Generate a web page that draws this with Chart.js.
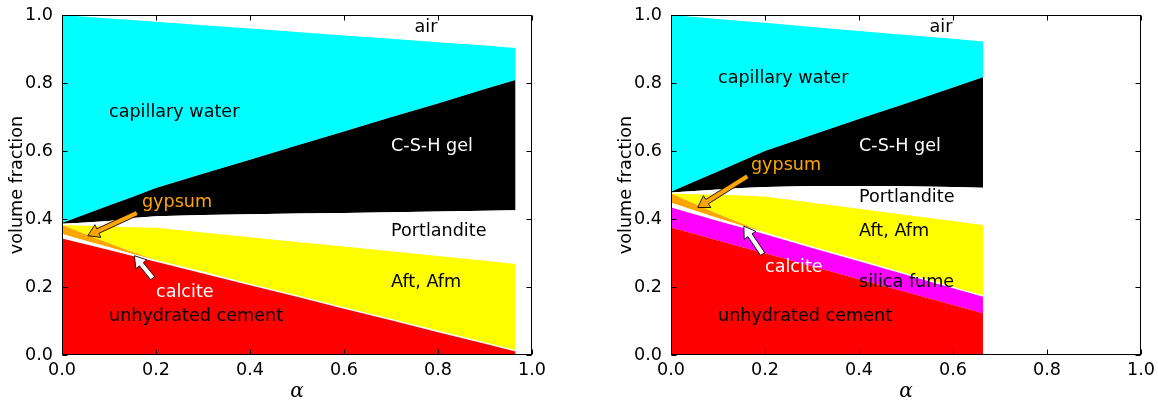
<!DOCTYPE html>
<html>
<head>
<meta charset="utf-8">
<script src="https://cdn.jsdelivr.net/npm/chart.js@4/dist/chart.umd.min.js"></script>
<style>
  html, body { margin: 0; padding: 0; background: #fff; }
  #wrap { position: relative; width: 1158px; height: 401px; }
  .panel { position: absolute; top: 0; width: 579px; height: 401px; }
</style>
</head>
<body>
<div id="wrap">
  <div class="panel" style="left:0"><canvas id="opc" width="579" height="401"></canvas></div>
  <div class="panel" style="left:579px"><canvas id="sf" width="579" height="401"></canvas></div>
</div>
<script>
// ---- Plain Portland cement paste: phase volume fractions vs. degree of hydration ----
const alphaOPC       = [0, 0.05, 0.1, 0.15, 0.2, 0.3, 0.4, 0.5, 0.6, 0.7, 0.8, 0.9, 0.965];
const cementOPC      = [0.343, 0.326, 0.309, 0.291, 0.274, 0.240, 0.205, 0.171, 0.136, 0.102, 0.067, 0.033, 0.010];
const calciteOPC     = [0.013, 0.010, 0.008, 0.006, 0.005, 0.005, 0.004, 0.004, 0.004, 0.004, 0.004, 0.004, 0.004];
const gypsumOPC      = [0.026, 0.019, 0.012, 0.006, 0, 0, 0, 0, 0, 0, 0, 0, 0];
const aftAfmOPC      = [0, 0.025, 0.049, 0.073, 0.095, 0.115, 0.137, 0.157, 0.179, 0.199, 0.220, 0.240, 0.254];
const portlanditeOPC = [0.004, 0.010, 0.016, 0.027, 0.034, 0.052, 0.068, 0.084, 0.099, 0.115, 0.131, 0.147, 0.158];
const cshOPC         = [0.002, 0.024, 0.046, 0.062, 0.083, 0.121, 0.160, 0.200, 0.239, 0.279, 0.318, 0.358, 0.383];
const waterOPC       = [0.612, 0.581, 0.550, 0.520, 0.489, 0.437, 0.386, 0.334, 0.283, 0.231, 0.180, 0.128, 0.094];
const airOPC         = [0, 0.005, 0.010, 0.015, 0.020, 0.030, 0.040, 0.050, 0.060, 0.070, 0.080, 0.090, 0.097];

// ---- Blend with silica fume ----
const alphaSF        = [0, 0.05, 0.1, 0.15, 0.2, 0.3, 0.4, 0.5, 0.6, 0.664];
const cementSF       = [0.375, 0.356, 0.337, 0.318, 0.299, 0.261, 0.223, 0.185, 0.147, 0.123];
const silicaFumeSF   = [0.059, 0.058, 0.057, 0.057, 0.056, 0.054, 0.053, 0.051, 0.049, 0.048];
const calciteSF      = [0.014, 0.011, 0.008, 0.006, 0.005, 0.004, 0.004, 0.004, 0.004, 0.004];
const gypsumSF       = [0.027, 0.020, 0.013, 0.006, 0, 0, 0, 0, 0, 0];
const aftAfmSF       = [0, 0.028, 0.056, 0.082, 0.106, 0.129, 0.150, 0.172, 0.194, 0.207];
const portlanditeSF  = [0.003, 0.009, 0.016, 0.022, 0.028, 0.049, 0.067, 0.084, 0.100, 0.110];
const cshSF          = [0.002, 0.028, 0.053, 0.079, 0.106, 0.150, 0.197, 0.244, 0.293, 0.325];
const waterSF        = [0.520, 0.484, 0.448, 0.412, 0.377, 0.318, 0.259, 0.201, 0.143, 0.105];
const airSF          = [0, 0.006, 0.012, 0.018, 0.023, 0.035, 0.047, 0.059, 0.070, 0.078];

// axis ticks
const tickValues = [0, 0.2, 0.4, 0.6, 0.8, 1.0];

const FONT = '"DejaVu Sans", "Liberation Sans", sans-serif';
const FS = 17.6;

const phaseColors = {
  cement: '#ff0000', silica: '#ff00ff', calcite: '#ffffff', gypsum: '#ffa500',
  aft: '#ffff00', portlandite: '#ffffff', csh: '#000000', water: '#00ffff', air: '#ffffff'
};

function toPoints(xs, ys) { return xs.map((x, i) => ({ x: x, y: ys[i] })); }

function layer(label, xs, ys, color, idx) {
  return {
    label: label,
    data: toPoints(xs, ys),
    backgroundColor: color,
    borderColor: color,
    borderWidth: 0,
    pointRadius: 0,
    tension: 0,
    fill: idx === 0 ? 'origin' : '-1'
  };
}

// frame, inward ticks, text labels and arrows
const decorPlugin = {
  id: 'decor',
  afterDatasetsDraw(chart, args, opts) {
    const { ctx, chartArea: a, scales: { x, y } } = chart;
    ctx.save();
    ctx.strokeStyle = '#000';
    ctx.lineWidth = 1;
    const L = Math.round(a.left) + 0.5, R = Math.round(a.right) - 0.5;
    const T = Math.round(a.top) + 0.5, B = Math.round(a.bottom) - 0.5;
    ctx.strokeRect(L, T, R - L, B - T);
    const tl = 5;
    ctx.beginPath();
    tickValues.forEach(v => {
      const px = Math.round(x.getPixelForValue(v)) + 0.5;
      ctx.moveTo(px, B); ctx.lineTo(px, B - tl);
      ctx.moveTo(px, T); ctx.lineTo(px, T + tl);
      const py = Math.round(y.getPixelForValue(v)) + 0.5;
      ctx.moveTo(L, py); ctx.lineTo(L + tl, py);
      ctx.moveTo(R, py); ctx.lineTo(R - tl, py);
    });
    ctx.stroke();

    // arrows
    (opts.arrows || []).forEach(ar => {
      const x1 = x.getPixelForValue(ar.from[0]), y1 = y.getPixelForValue(ar.from[1]);
      const x2 = x.getPixelForValue(ar.to[0]), y2 = y.getPixelForValue(ar.to[1]);
      const ang = Math.atan2(y2 - y1, x2 - x1);
      const len = Math.hypot(x2 - x1, y2 - y1);
      const hw = 2.5, hh = 7, hl = 11;
      ctx.save();
      ctx.translate(x1, y1);
      ctx.rotate(ang);
      ctx.beginPath();
      ctx.moveTo(0, -hw);
      ctx.lineTo(len - hl, -hw);
      ctx.lineTo(len - hl, -hh);
      ctx.lineTo(len, 0);
      ctx.lineTo(len - hl, hh);
      ctx.lineTo(len - hl, hw);
      ctx.lineTo(0, hw);
      ctx.closePath();
      ctx.fillStyle = ar.color;
      ctx.fill();
      ctx.lineWidth = 0.8;
      ctx.strokeStyle = '#000';
      ctx.stroke();
      ctx.restore();
    });

    // phase labels
    ctx.font = FS + 'px ' + FONT;
    ctx.textAlign = 'left';
    ctx.textBaseline = 'alphabetic';
    (opts.labels || []).forEach(lb => {
      ctx.fillStyle = lb.color;
      ctx.fillText(lb.text, x.getPixelForValue(lb.x), y.getPixelForValue(lb.y));
    });
    ctx.restore();
  }
};

function makeChart(id, datasets, labels, arrows, padLeft, padRight) {
  return new Chart(document.getElementById(id), {
    type: 'line',
    data: { datasets: datasets },
    plugins: [decorPlugin],
    options: {
      responsive: false,
      animation: false,
      layout: { padding: { left: padLeft, right: padRight, top: 15, bottom: 0 } },
      plugins: {
        legend: { display: false },
        tooltip: { enabled: false },
        decor: { labels: labels, arrows: arrows }
      },
      scales: {
        x: {
          type: 'linear', min: 0, max: 1,
          grid: { display: false, drawTicks: false },
          border: { display: false },
          afterBuildTicks(s) { s.ticks = tickValues.map(v => ({ value: v })); },
          afterFit(s) { s.height = 46; s.paddingLeft = 0; s.paddingRight = 0; },
          ticks: {
            padding: 5, color: '#000', font: { family: FONT, size: FS },
            maxRotation: 0, callback: v => Number(v).toFixed(1)
          },
          title: {
            display: true, text: 'α', color: '#000',
            font: { family: '"DejaVu Serif", serif', size: 20, style: 'italic' },
            padding: { top: 0, bottom: -3 }
          }
        },
        y: {
          type: 'linear', min: 0, max: 1, stacked: true,
          grid: { display: false, drawTicks: false },
          border: { display: false },
          afterBuildTicks(s) { s.ticks = tickValues.map(v => ({ value: v })); },
          afterFit(s) { s.width = 62; s.paddingTop = 0; s.paddingBottom = 0; },
          ticks: {
            padding: 9, color: '#000', font: { family: FONT, size: FS },
            callback: v => Number(v).toFixed(1)
          },
          title: {
            display: true, text: 'volume fraction', color: '#000',
            font: { family: FONT, size: FS },
            padding: { top: 7, bottom: 0 }
          }
        }
      }
    }
  });
}

const opcSets = [
  ['unhydrated cement', cementOPC, phaseColors.cement],
  ['calcite', calciteOPC, phaseColors.calcite],
  ['gypsum', gypsumOPC, phaseColors.gypsum],
  ['Aft, Afm', aftAfmOPC, phaseColors.aft],
  ['Portlandite', portlanditeOPC, phaseColors.portlandite],
  ['C-S-H gel', cshOPC, phaseColors.csh],
  ['capillary water', waterOPC, phaseColors.water],
  ['air', airOPC, phaseColors.air]
].map((d, i) => layer(d[0], alphaOPC, d[1], d[2], i));

const sfSets = [
  ['unhydrated cement', cementSF, phaseColors.cement],
  ['silica fume', silicaFumeSF, phaseColors.silica],
  ['calcite', calciteSF, phaseColors.calcite],
  ['gypsum', gypsumSF, phaseColors.gypsum],
  ['Aft, Afm', aftAfmSF, phaseColors.aft],
  ['Portlandite', portlanditeSF, phaseColors.portlandite],
  ['C-S-H gel', cshSF, phaseColors.csh],
  ['capillary water', waterSF, phaseColors.water],
  ['air', airSF, phaseColors.air]
].map((d, i) => layer(d[0], alphaSF, d[1], d[2], i));

makeChart('opc', opcSets, [
  { text: 'air', x: 0.75, y: 0.95, color: '#000' },
  { text: 'capillary water', x: 0.1, y: 0.7, color: '#000' },
  { text: 'C-S-H gel', x: 0.7, y: 0.6, color: '#fff' },
  { text: 'gypsum', x: 0.17, y: 0.435, color: '#ffa500' },
  { text: 'Portlandite', x: 0.7, y: 0.35, color: '#000' },
  { text: 'Aft, Afm', x: 0.7, y: 0.2, color: '#000' },
  { text: 'calcite', x: 0.2, y: 0.17, color: '#fff' },
  { text: 'unhydrated cement', x: 0.1, y: 0.1, color: '#000' }
], [
  { from: [0.16, 0.418], to: [0.055, 0.351], color: '#ffa500' },
  { from: [0.193, 0.226], to: [0.154, 0.292], color: '#ffffff' }
], 0, 47);

makeChart('sf', sfSets, [
  { text: 'air', x: 0.55, y: 0.95, color: '#000' },
  { text: 'capillary water', x: 0.1, y: 0.8, color: '#000' },
  { text: 'C-S-H gel', x: 0.4, y: 0.6, color: '#fff' },
  { text: 'gypsum', x: 0.17, y: 0.545, color: '#ffa500' },
  { text: 'Portlandite', x: 0.4, y: 0.45, color: '#000' },
  { text: 'Aft, Afm', x: 0.4, y: 0.35, color: '#000' },
  { text: 'calcite', x: 0.2, y: 0.245, color: '#fff' },
  { text: 'silica fume', x: 0.4, y: 0.2, color: '#000' },
  { text: 'unhydrated cement', x: 0.1, y: 0.1, color: '#000' }
], [
  { from: [0.163, 0.526], to: [0.057, 0.434], color: '#ffa500' },
  { from: [0.195, 0.297], to: [0.155, 0.379], color: '#ffffff' }
], 30, 17);
</script>
</body>
</html>
